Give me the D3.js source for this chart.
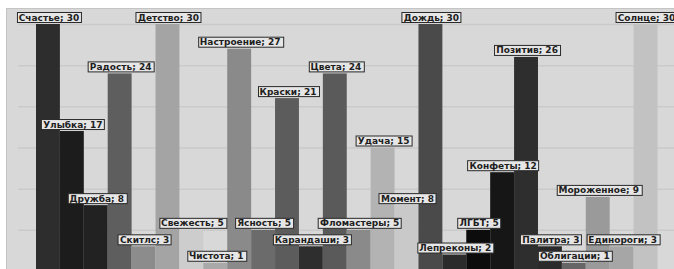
<!DOCTYPE html>
<html>
<head>
<meta charset="utf-8">
<script src="https://cdn.jsdelivr.net/npm/d3@7"></script>
<style>
  body { margin: 0; background: #fff; }
  svg { display: block; }
  .label-text { font-family: "DejaVu Sans", sans-serif; font-weight: bold; font-size: 9px; fill: #1e1e1e; }
</style>
</head>
<body>
<div class="chart"></div>
<script>
const width = 674;
const height = 269;

const categories = [
  "Счастье", "Улыбка", "Дружба", "Радость", "Скитлс", "Детство", "Свежесть",
  "Чистота", "Настроение", "Ясность", "Краски", "Карандаши", "Цвета",
  "Фломастеры", "Удача", "Момент", "Дождь", "Лепреконы", "ЛГБТ", "Конфеты",
  "Позитив", "Палитра", "Облигации", "Мороженное", "Единороги", "Солнце"
];
const values = [30, 17, 8, 24, 3, 30, 5, 1, 27, 5, 21, 3, 24, 5, 15, 8, 30, 2, 5, 12, 26, 3, 1, 9, 3, 30];
const gridTicks = [5, 10, 15, 20, 25, 30];

// one grey per bar, in category order
const palette = [
  "#2d2d2d", "#1c1c1c", "#222222", "#5e5e5e", "#8c8c8c", "#a4a4a4", "#cdcdcd",
  "#a9a9a9", "#8a8a8a", "#6b6b6b", "#5c5c5c", "#2e2e2e", "#5a5a5a",
  "#8a8a8a", "#b3b3b3", "#c9c9c9", "#4a4a4a", "#2b2b2b", "#0c0c0c", "#161616",
  "#2e2e2e", "#2a2a2a", "#666666", "#9a9a9a", "#a6a6a6", "#c2c2c2"
];

const data = categories.map((c, i) => ({ name: c, value: values[i] }));

const color = d3.scaleOrdinal().domain(categories).range(palette);
const x = d3.scaleBand().domain(categories).range([36, 657.5]).padding(0);
const y = d3.scaleLinear().domain([0, 30]).range([271, 24]);

const svg = d3.select(".chart")
  .append("svg")
  .attr("width", width)
  .attr("height", height);

// panel
svg.append("rect")
  .attr("x", 6.5)
  .attr("y", 8.5)
  .attr("width", width)
  .attr("height", height)
  .attr("fill", "#d8d8d8")
  .attr("stroke", "#c4c4c4");

// grid
const grid = d3.axisLeft(y).tickValues(gridTicks).tickSize(-(width - 18)).tickFormat("");
svg.append("g")
  .attr("transform", "translate(18,0)")
  .call(grid)
  .call(g => g.select(".domain").remove())
  .call(g => g.selectAll("line").attr("stroke", "#cacaca").attr("stroke-width", 1.5));

// bars
svg.append("g")
  .selectAll("rect")
  .data(data)
  .enter()
  .append("rect")
  .attr("x", d => x(d.name))
  .attr("y", d => y(d.value))
  .attr("width", x.bandwidth())
  .attr("height", d => y(0) - y(d.value))
  .attr("fill", d => color(d.name));

// labels
const labels = svg.append("g")
  .selectAll("g")
  .data(data)
  .enter()
  .append("g")
  .attr("transform", d => `translate(${x(d.name) + x.bandwidth() / 2 + 1}, ${y(d.value) - 1})`);

labels.append("text")
  .attr("class", "label-text")
  .attr("text-anchor", "middle")
  .attr("y", -2.5)
  .text(d => `${d.name}; ${d.value}`);

labels.each(function () {
  const g = d3.select(this);
  const bb = g.select("text").node().getBBox();
  g.insert("rect", "text")
    .attr("x", Math.round(bb.x - 2) + 0.5)
    .attr("y", -10.5)
    .attr("width", Math.round(bb.width + 4))
    .attr("height", 10)
    .attr("fill", "#e6e6e6")
    .attr("stroke", "#2a2a2a")
    .attr("stroke-width", 1);
});
</script>
</body>
</html>
